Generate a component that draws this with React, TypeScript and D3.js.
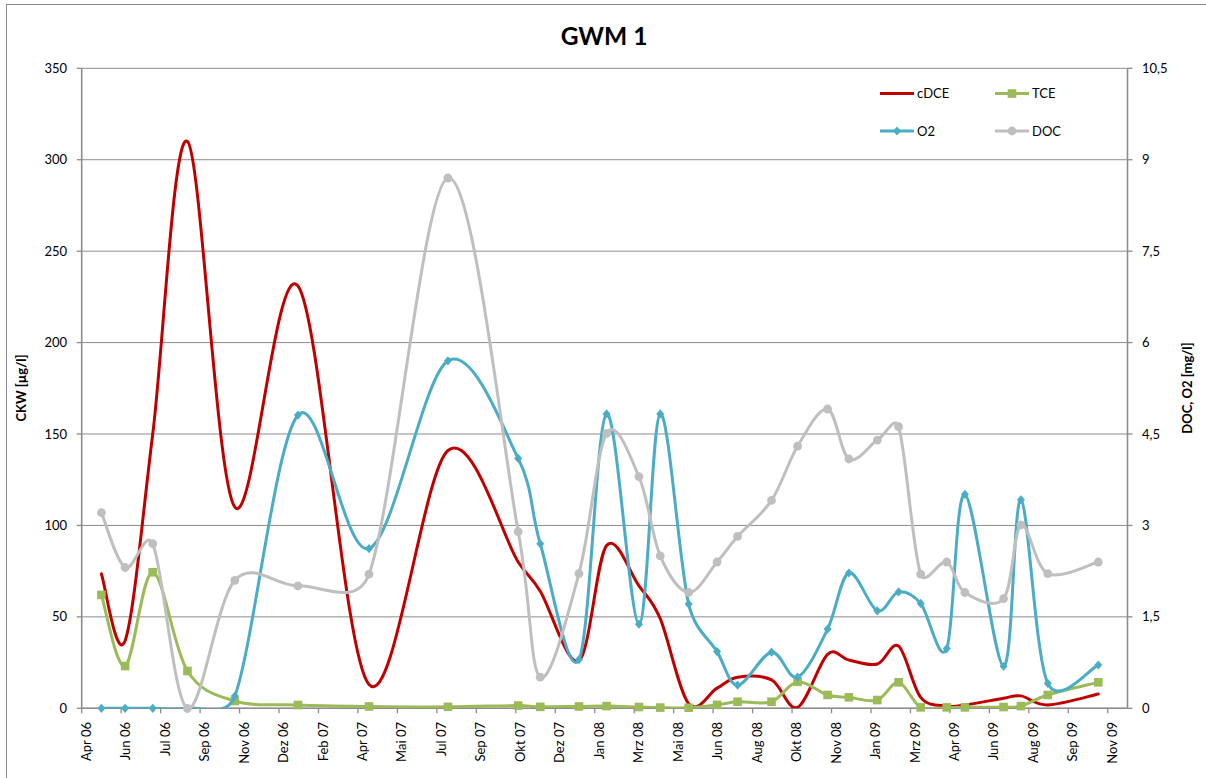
import React from 'react';
import * as d3 from 'd3';

// sampling dates (one per measurement campaign)
const sampleDates = [
  '2006-05-15', '2006-06-14', '2006-07-19', '2006-09-01', '2006-10-31', '2007-01-19',
  '2007-04-19', '2007-07-28', '2007-10-25', '2007-11-22', '2008-01-10', '2008-02-14',
  '2008-03-26', '2008-04-22', '2008-05-28', '2008-07-03', '2008-07-29', '2008-09-10',
  '2008-10-13', '2008-11-20', '2008-12-17', '2009-01-22', '2009-02-18', '2009-03-18',
  '2009-04-20', '2009-05-13', '2009-07-01', '2009-07-23', '2009-08-26', '2009-10-29',
];

// CKW [µg/l]  (left axis)
const cDCE = [73.5, 37, 150, 310, 110, 231, 13, 141, 80, 64, 26, 89, 67, 49, 2.5, 11, 17, 15.5, 0.5, 29.5, 26.4, 24.2, 34, 6, 1.3, 1.8, 5.5, 6.8, 1.8, 7.8];
const TCE = [62, 23.1, 74.4, 20.4, 4.0, 1.8, 1.0, 0.8, 1.5, 0.8, 1.0, 1.2, 0.7, 0.4, 0.3, 1.9, 3.6, 3.6, 14.5, 7.3, 6.0, 4.5, 14.2, 0.5, 0.5, 0.5, 0.7, 1.2, 7.3, 14.2];

// DOC, O2 [mg/l]  (right axis)
const O2 = [0, 0, 0, 0, 0.2, 4.81, 2.62, 5.7, 4.1, 2.7, 0.8, 4.83, 1.38, 4.83, 1.71, 0.93, 0.38, 0.92, 0.51, 1.3, 2.22, 1.6, 1.91, 1.72, 0.98, 3.51, 0.69, 3.42, 0.41, 0.71];
const DOC = [3.21, 2.31, 2.7, 0, 2.1, 2.01, 2.2, 8.7, 2.9, 0.51, 2.21, 4.51, 3.8, 2.5, 1.9, 2.4, 2.82, 3.41, 4.3, 4.91, 4.09, 4.4, 4.62, 2.2, 2.4, 1.9, 1.8, 3.01, 2.21, 2.4];

const xTickLabels = [
  'Apr 06', 'Jun 06', 'Jul 06', 'Sep 06', 'Nov 06', 'Dez 06', 'Feb 07', 'Apr 07', 'Mai 07',
  'Jul 07', 'Sep 07', 'Okt 07', 'Dez 07', 'Jan 08', 'Mrz 08', 'Mai 08', 'Jun 08', 'Aug 08',
  'Okt 08', 'Nov 08', 'Jan 09', 'Mrz 09', 'Apr 09', 'Jun 09', 'Aug 09', 'Sep 09', 'Nov 09',
];
const leftTicks = [0, 50, 100, 150, 200, 250, 300, 350];
const rightTicks = [0, 1.5, 3, 4.5, 6, 7.5, 9, 10.5];

const FONT = 'Lato, "Open Sans", sans-serif';
const GRID = '#8c8c8c';

const parse = d3.utcParse('%Y-%m-%d');
const axisStart = parse('2006-04-20') as Date;
const axisEnd = d3.utcDay.offset(axisStart, 1325);
const tickDates = xTickLabels.map((_, i) => d3.utcDay.offset(axisStart, i * 50));
const dates = sampleDates.map((s) => parse(s) as Date);

const x = d3.scaleUtc().domain([axisStart, axisEnd]).range([81.7, 1127.5]);
const yL = d3.scaleLinear().domain([0, 350]).range([708.3, 68.3]);
const yR = d3.scaleLinear().domain([0, 10.5]).range([708.3, 68.3]);

const fmtComma = (v: number) => String(v).replace('.', ',');

// spreadsheet-style smoothed line: cardinal bezier arms (neighbour span / 6),
// each arm limited to half of its segment length
const smoothPath = (p: [number, number][]) => {
  const path = d3.path();
  const n = p.length;
  const at = (i: number) => p[Math.max(0, Math.min(n - 1, i))];
  const cap = (dx: number, dy: number, lim: number): [number, number] => {
    const l = Math.hypot(dx, dy);
    if (l > lim && l > 0) return [(dx * lim) / l, (dy * lim) / l];
    return [dx, dy];
  };
  path.moveTo(p[0][0], p[0][1]);
  for (let i = 0; i < n - 1; i++) {
    const p0 = at(i - 1), p1 = at(i), p2 = at(i + 1), p3 = at(i + 2);
    const seg = Math.hypot(p2[0] - p1[0], p2[1] - p1[1]);
    const a1 = cap((p2[0] - p0[0]) / 6, (p2[1] - p0[1]) / 6, seg * 0.5);
    const a2 = cap((p3[0] - p1[0]) / 6, (p3[1] - p1[1]) / 6, seg * 0.5);
    path.bezierCurveTo(p1[0] + a1[0], p1[1] + a1[1], p2[0] - a2[0], p2[1] - a2[1], p2[0], p2[1]);
  }
  return path.toString();
};

const series = [
  { name: 'cDCE', vals: cDCE, scale: yL, color: '#C00000', marker: 'none' },
  { name: 'TCE', vals: TCE, scale: yL, color: '#9BBB59', marker: 'square' },
  { name: 'O2', vals: O2, scale: yR, color: '#4BACC6', marker: 'diamond' },
  { name: 'DOC', vals: DOC, scale: yR, color: '#BFBFBF', marker: 'circle' },
];

const Marker = ({ type, cx, cy, color }: { type: string; cx: number; cy: number; color: string }) => {
  if (type === 'square') return <rect x={cx - 4.3} y={cy - 4.3} width={8.6} height={8.6} fill={color} />;
  if (type === 'diamond') return <path d={`M${cx},${cy - 4.6}L${cx + 4},${cy}L${cx},${cy + 4.6}L${cx - 4},${cy}Z`} fill={color} />;
  if (type === 'circle') return <circle cx={cx} cy={cy} r={4.4} fill={color} />;
  return null;
};

const legendItems = [
  { s: series[0], lx: 880, y: 93.5 },
  { s: series[1], lx: 995, y: 93.5 },
  { s: series[2], lx: 880, y: 131 },
  { s: series[3], lx: 995, y: 131 },
];

export default function App() {
  const x0 = 81.7, x1 = 1127.5, yTop = 68.3, yBot = 708.3;
  return (
    <svg width={1206} height={778} style={{ position: 'absolute', left: 0, top: 0, background: '#fff' }} fontFamily={FONT}>
      <defs>
        <clipPath id="plot">
          <rect x={x0} y={yTop} width={x1 - x0} height={yBot - yTop} />
        </clipPath>
      </defs>
      <rect x={6.5} y={4.5} width={1210} height={790} fill="#fff" stroke={GRID} strokeWidth={1} />

      <text x={604} y={45} textAnchor="middle" fontSize={24.5} fontWeight="bold" fill="#000">GWM 1</text>

      {/* gridlines */}
      {leftTicks.map((t) => (
        <line key={'g' + t} x1={x0} x2={x1} y1={yL(t)} y2={yL(t)} stroke={GRID} strokeWidth={1} />
      ))}

      {/* left axis */}
      <line x1={x0} x2={x0} y1={yTop} y2={yBot} stroke={GRID} strokeWidth={1.6} />
      {leftTicks.map((t) => (
        <g key={'l' + t}>
          <line x1={x0 - 5} x2={x0} y1={yL(t)} y2={yL(t)} stroke={GRID} strokeWidth={1.3} />
          <text x={67} y={yL(t)} dy="0.35em" textAnchor="end" fontSize={13} fill="#000">{t}</text>
        </g>
      ))}

      {/* right axis */}
      <line x1={x1} x2={x1} y1={yTop} y2={yBot} stroke={GRID} strokeWidth={1.6} />
      {rightTicks.map((t) => (
        <g key={'r' + t}>
          <line x1={x1} x2={x1 + 5} y1={yR(t)} y2={yR(t)} stroke={GRID} strokeWidth={1.3} />
          <text x={1142} y={yR(t)} dy="0.35em" textAnchor="start" fontSize={13} fill="#000">{fmtComma(t)}</text>
        </g>
      ))}

      {/* x axis */}
      <line x1={x0} x2={x1} y1={yBot} y2={yBot} stroke={GRID} strokeWidth={1.6} />
      {tickDates.map((d, i) => (
        <g key={'x' + i}>
          <line x1={x(d)} x2={x(d)} y1={yBot} y2={yBot + 5} stroke={GRID} strokeWidth={1.3} />
          <text
            transform={`translate(${x(d) + 4.5},722) rotate(-90)`}
            dy="0.35em"
            textAnchor="end"
            fontSize={13}
            fill="#000"
          >
            {xTickLabels[i]}
          </text>
        </g>
      ))}

      {/* axis titles */}
      <text transform="translate(21.5,388) rotate(-90)" dy="0.35em" textAnchor="middle" fontSize={13} fontWeight="bold">CKW [µg/l]</text>
      <text transform="translate(1187,388) rotate(-90)" dy="0.35em" textAnchor="middle" fontSize={13} fontWeight="bold">DOC, O2 [mg/l]</text>

      {/* series */}
      {series.map((s) => {
        const px = s.vals.map((v, i) => [x(dates[i]), s.scale(v)] as [number, number]);
        return (
          <g key={s.name}>
            <path d={smoothPath(px)} clipPath="url(#plot)" fill="none" stroke={s.color} strokeWidth={3} strokeLinejoin="round" strokeLinecap="round" />
            {px.map(([cx, cy], i) => (
              <Marker key={i} type={s.marker} cx={cx} cy={cy} color={s.color} />
            ))}
          </g>
        );
      })}

      {/* legend */}
      {legendItems.map(({ s, lx, y }) => (
        <g key={'lg' + s.name}>
          <line x1={lx} x2={lx + 34} y1={y} y2={y} stroke={s.color} strokeWidth={3} />
          <Marker type={s.marker} cx={lx + 17} cy={y} color={s.color} />
          <text x={lx + 37} y={y} dy="0.35em" fontSize={13} fill="#000">{s.name}</text>
        </g>
      ))}
    </svg>
  );
}
